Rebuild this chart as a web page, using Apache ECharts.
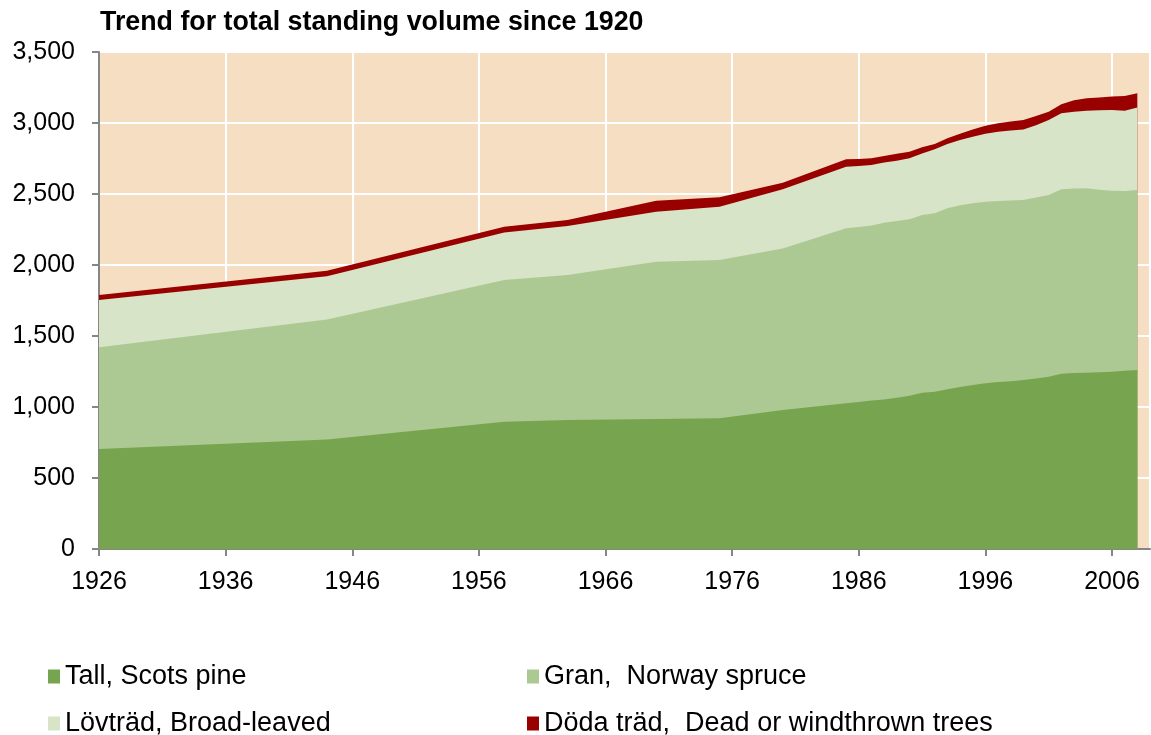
<!DOCTYPE html>
<html>
<head>
<meta charset="utf-8">
<script src="https://cdn.jsdelivr.net/npm/echarts@6/dist/echarts.min.js"></script>
<style>
html,body{margin:0;padding:0;background:#fff;}
#chart{width:1151px;height:735px;}
</style>
</head>
<body>
<div id="chart"></div>
<script>
// Years of observation
const years = [1926,1944,1958,1963,1970,1975,1980,1985,1986,1987,1988,1989,1990,1991,1992,1993,1994,1995,1996,1997,1998,1999,2000,2001,2002,2003,2004,2005,2006,2007,2008];
// Standing volume (million m3sk) by species group
const tall  = [704,772,897,908,915,920,979,1026,1035,1045,1052,1065,1080,1101,1108,1125,1140,1155,1168,1176,1182,1190,1200,1213,1235,1240,1242,1245,1249,1255,1261];
const gran  = [716,845,997,1022,1108,1115,1138,1232,1233,1233,1246,1245,1242,1251,1256,1274,1280,1279,1277,1275,1273,1268,1275,1280,1298,1298,1298,1285,1274,1267,1267];
const lov   = [333,303,334,345,352,376,416,434,430,427,423,425,429,434,451,453,460,469,480,488,493,497,510,528,535,542,547,560,568,565,582];
const doda  = [35,40,42,42,78,66,47,52,48,47,47,48,47,43,37,40,45,52,55,59,62,66,65,59,64,80,87,90,95,103,99];

const seriesNames = ['Tall, Scots pine','Gran,  Norway spruce','Lövträd, Broad-leaved','Döda träd,  Dead or windthrown trees'];
const seriesColors = ['#77A54F','#ADC993','#D7E4C8','#990000'];
const yTicks = [0,500,1000,1500,2000,2500,3000,3500];
const firstYear = 1926, lastYear = 2009;

const chart = echarts.init(document.getElementById('chart'), null, {renderer:'canvas'});
const font = '"Liberation Sans", Arial, sans-serif';
const allData = [tall, gran, lov, doda];

// running totals so each area is drawn from zero up to its stacked top
const tops = [];
allData.forEach((arr,i)=>{
  tops.push(arr.map((v,j)=> v + (i>0 ? tops[i-1][j] : 0)));
});
function pairs(arr){ return years.map((y,i)=>[y-firstYear, arr[i]]); }

// legend placement (two columns, two rows)
const legendPos = [[48,663],[527,663],[48,710],[527,710]];

const series = [];
for (let i = allData.length-1; i >= 0; i--) {
  series.push({
    name:seriesNames[i],
    type:'line',
    data:pairs(tops[i]),
    symbol:'none',
    smooth:false,
    lineStyle:{width:0,color:seriesColors[i]},
    itemStyle:{color:seriesColors[i]},
    areaStyle:{color:seriesColors[i],opacity:1,origin:'start'},
    z:2 + (allData.length-1-i)
  });
}

chart.setOption({
  backgroundColor:'#ffffff',
  animation:false,
  title:{
    text:'Trend for total standing volume since 1920',
    left:95, top:4,
    textStyle:{fontFamily:font,fontWeight:'bold',fontSize:26.8,color:'#000'}
  },
  legend: seriesNames.map((n,i)=>({
    data:[n],
    left:legendPos[i][0], top:legendPos[i][1], padding:0,
    itemWidth:12, itemHeight:14, icon:'rect', selectedMode:false,
    textStyle:{fontFamily:font,fontSize:27,color:'#000'}
  })),
  grid:{
    left:99, right:1, top:52, bottom:186,
    show:true, backgroundColor:'#F6DEC2', borderColor:'#222', borderWidth:1,
    containLabel:false
  },
  xAxis:{
    type:'value', min:0, max:lastYear-firstYear, interval:10,
    axisLine:{show:true,lineStyle:{color:'#868686',width:2}},
    axisTick:{show:true,length:7,lineStyle:{color:'#868686',width:2}},
    axisLabel:{
      showMaxLabel:false, margin:21,
      fontFamily:font,fontSize:25,color:'#000',
      formatter:v=>String(firstYear+v)
    },
    splitLine:{show:true,lineStyle:{color:'#ffffff',width:2}}
  },
  yAxis:{
    type:'value', min:yTicks[0], max:yTicks[yTicks.length-1], interval:500,
    axisLine:{show:true,lineStyle:{color:'#868686',width:2}},
    axisTick:{show:true,length:7,lineStyle:{color:'#868686',width:2}},
    axisLabel:{
      margin:24, fontFamily:font,fontSize:25,color:'#000',
      formatter:v=>v.toLocaleString('en-US')
    },
    splitLine:{show:true,lineStyle:{color:'#ffffff',width:2}}
  },
  series: series
});
</script>
</body>
</html>
